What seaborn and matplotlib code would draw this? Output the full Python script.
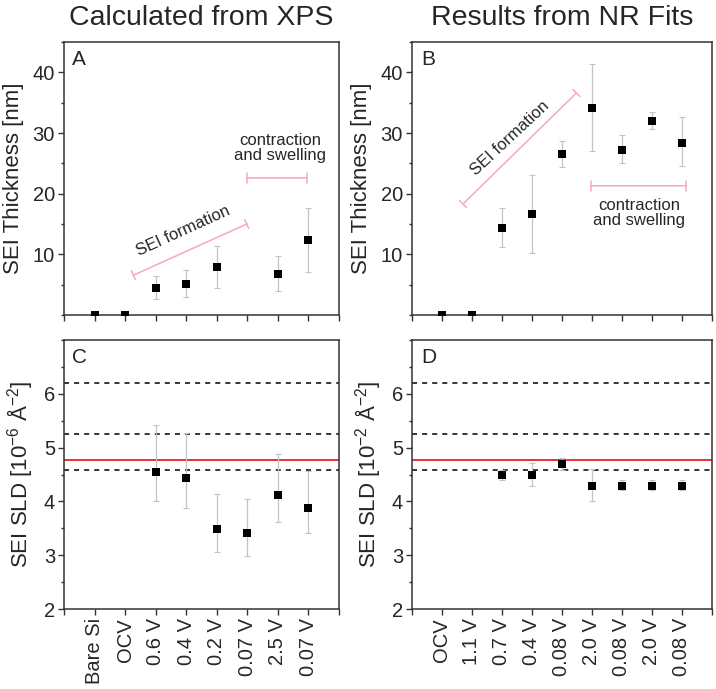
import numpy as np
import matplotlib
matplotlib.use("Agg")
import matplotlib.pyplot as plt
import seaborn as sns
from matplotlib.ticker import MultipleLocator, FixedLocator

nan = np.nan

# category labels
xps_labels = ["Bare Si", "OCV", "0.6 V", "0.4 V", "0.2 V", "0.07 V", "2.5 V", "0.07 V"]
nr_labels = ["OCV", "1.1 V", "0.7 V", "0.4 V", "0.08 V", "2.0 V", "0.08 V", "2.0 V", "0.08 V"]

# SEI thickness [nm]  (value, lower, upper)
xps_thick = [0, 0, 4.5, 5.1, 7.9, nan, 6.8, 12.4]
xps_thick_lo = [nan, nan, 2.6, 2.95, 4.5, nan, 3.9, 7.05]
xps_thick_hi = [nan, nan, 6.35, 7.5, 11.3, nan, 9.75, 17.7]

nr_thick = [0, 0, 14.3, 16.7, 26.5, 34.1, 27.2, 32.0, 28.4]
nr_thick_lo = [nan, nan, 11.2, 10.3, 24.4, 27.0, 25.0, 30.6, 24.6]
nr_thick_hi = [nan, nan, 17.6, 23.0, 28.7, 41.4, 29.6, 33.5, 32.6]

# SEI SLD
xps_sld = [nan, nan, 4.55, 4.43, 3.49, 3.41, 4.12, 3.88]
xps_sld_lo = [nan, nan, 4.00, 3.88, 3.06, 2.98, 3.61, 3.41]
xps_sld_hi = [nan, nan, 5.42, 5.27, 4.13, 4.04, 4.88, 4.56]

nr_sld = [nan, nan, 4.49, 4.49, 4.69, 4.29, 4.29, 4.29, 4.29]
nr_sld_lo = [nan, nan, 4.40, 4.29, 4.58, 4.01, 4.21, 4.21, 4.21]
nr_sld_hi = [nan, nan, 4.58, 4.71, 4.80, 4.60, 4.39, 4.39, 4.39]

# reference lines in SLD panels
dashed_levels = [6.21, 5.25, 4.59]
red_level = 4.77

sns.set_style("ticks")
plt.rcParams["font.family"] = ["Liberation Sans", "DejaVu Sans"]
plt.rcParams["mathtext.fontset"] = "custom"
plt.rcParams["mathtext.rm"] = "Liberation Sans"
plt.rcParams["mathtext.it"] = "Liberation Sans:italic"

PINK = "#f7a9bb"
ERR = "#c4c4c4"
SPINE = "#333333"

fig = plt.figure(figsize=(7.16, 6.89), dpi=100)
axA = fig.add_axes([0.0894, 0.5428, 0.3841, 0.3962])
axB = fig.add_axes([0.5754, 0.5428, 0.4190, 0.3962])
axC = fig.add_axes([0.0894, 0.1161, 0.3841, 0.3904])
axD = fig.add_axes([0.5754, 0.1161, 0.4190, 0.3904])


def draw_points(ax, vals, lo, hi):
    x = np.arange(1, len(vals) + 1)
    v = np.array(vals, dtype=float)
    err = np.vstack([v - np.array(lo, dtype=float), np.array(hi, dtype=float) - v])
    ax.errorbar(x, v, yerr=err, fmt="none", ecolor=ERR, elinewidth=0.9,
                capsize=2.5, capthick=0.8, zorder=2)
    sns.scatterplot(x=x, y=v, marker="s", s=28, color="black", linewidth=0,
                    ax=ax, zorder=3)


def style_axes(ax, labels, show_labels):
    n = len(labels)
    ax.set_xlim(0, n + 1)
    ax.xaxis.set_major_locator(FixedLocator(np.arange(0, n + 2)))
    if show_labels:
        ax.set_xticklabels([""] + labels + [""], rotation=90, fontsize=14.5)
    else:
        ax.set_xticklabels([])
    ax.tick_params(direction="out", length=4, width=1, color=SPINE, labelsize=14.5, pad=2.5)
    ax.tick_params(which="minor", direction="out", length=2.5, width=1, color=SPINE)
    for sp in ax.spines.values():
        sp.set_color(SPINE)
        sp.set_linewidth(1.1)


# thickness panels
for ax, labels, vals, lo, hi, letter in [
        (axA, xps_labels, xps_thick, xps_thick_lo, xps_thick_hi, "A"),
        (axB, nr_labels, nr_thick, nr_thick_lo, nr_thick_hi, "B")]:
    draw_points(ax, vals, lo, hi)
    style_axes(ax, labels, False)
    ax.set_ylim(0, 45)
    ax.set_yticks([10, 20, 30, 40])
    ax.yaxis.set_minor_locator(MultipleLocator(5))
    ax.set_ylabel("SEI Thickness [nm]", fontsize=16, labelpad=6)
    ax.text(0.03, 0.97, letter, transform=ax.transAxes, fontsize=15, va="top", ha="left")

# SLD panels
for ax, labels, vals, lo, hi, letter, ylab in [
        (axC, xps_labels, xps_sld, xps_sld_lo, xps_sld_hi, "C",
         r"SEI SLD [10$^{\mathrm{-6}}$ Å$^{\mathrm{-2}}$]"),
        (axD, nr_labels, nr_sld, nr_sld_lo, nr_sld_hi, "D",
         r"SEI SLD [10$^{\mathrm{-2}}$ Å$^{\mathrm{-2}}$]")]:
    for lvl in dashed_levels:
        ax.axhline(lvl, color="black", lw=1.1, ls=(0, (3.3, 3.3)), zorder=1)
    ax.axhline(red_level, color="#ec2029", lw=1.3, zorder=1)
    draw_points(ax, vals, lo, hi)
    style_axes(ax, labels, True)
    ax.set_ylim(2, 7)
    ax.set_yticks([2, 3, 4, 5, 6])
    ax.yaxis.set_minor_locator(MultipleLocator(0.5))
    ax.set_ylabel(ylab, fontsize=16, labelpad=6)
    ax.text(0.03, 0.97, letter, transform=ax.transAxes, fontsize=15, va="top", ha="left")

axA.set_title("Calculated from XPS", fontsize=20.5, pad=12)
axB.set_title("Results from NR Fits", fontsize=20.5, pad=12)


def bracket(ax, p1, p2):
    ax.annotate("", xy=p2, xytext=p1,
                arrowprops=dict(arrowstyle="|-|,widthA=0.35,widthB=0.35", color=PINK,
                                lw=1.1, shrinkA=0, shrinkB=0, mutation_scale=10))


# annotations panel A
bracket(axA, (2.27, 6.56), (5.98, 15.0))
axA.text(3.9, 13.9, "SEI formation", rotation=24.5, fontsize=12,
         ha="center", va="center", rotation_mode="anchor")
bracket(axA, (5.98, 22.6), (7.96, 22.6))
axA.text(7.07, 27.5, "contraction\nand swelling", fontsize=12,
         ha="center", va="center", linespacing=1.05)

# annotations panel B
bracket(axB, (1.7, 18.3), (5.48, 36.6))
axB.text(3.26, 29.2, "SEI formation", rotation=43, fontsize=12,
         ha="center", va="center", rotation_mode="anchor")
bracket(axB, (5.98, 21.3), (9.15, 21.3))
axB.text(7.56, 16.8, "contraction\nand swelling", fontsize=12,
         ha="center", va="center", linespacing=1.05)

fig.savefig("out.png", dpi=100)
